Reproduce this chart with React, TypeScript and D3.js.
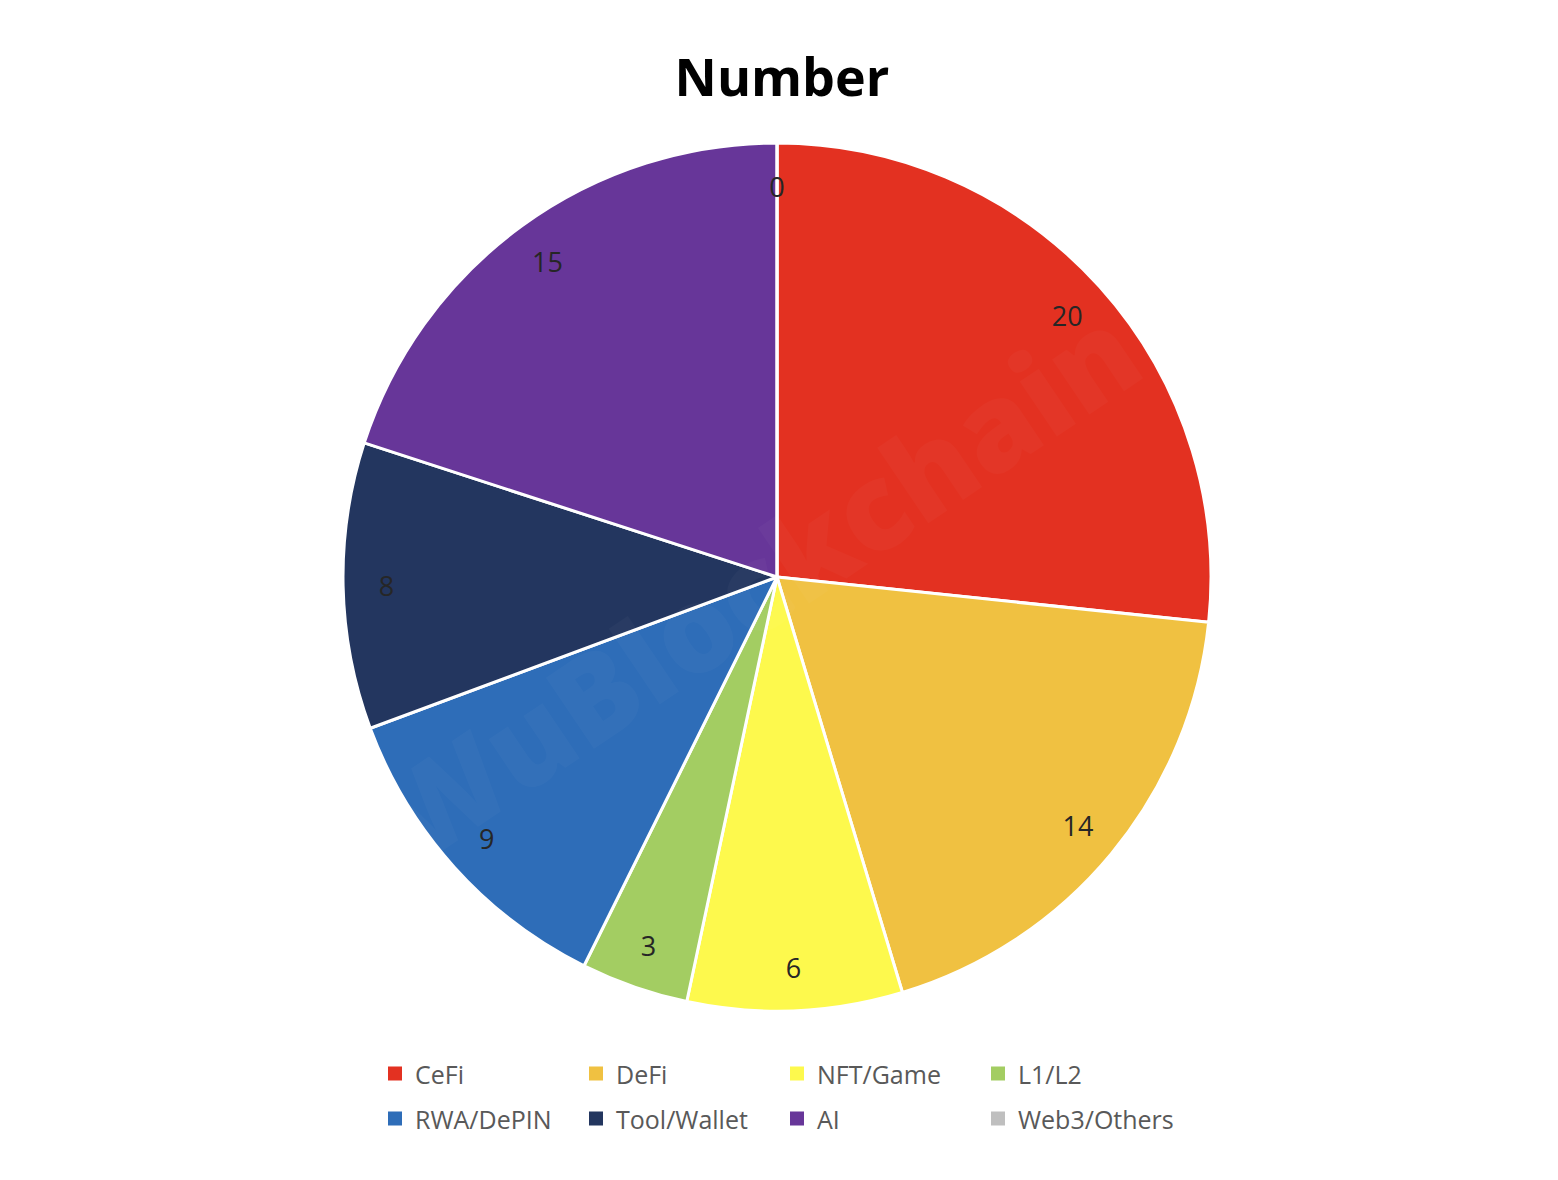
import React from "react";
import * as d3 from "d3";

const categories = ["CeFi", "DeFi", "NFT/Game", "L1/L2", "RWA/DePIN", "Tool/Wallet", "AI", "Web3/Others"];
const values = [20, 14, 6, 3, 9, 8, 15, 0];
const colors = ["#E33121", "#F0C141", "#FDF94D", "#A3CD62", "#2E6DB8", "#23365F", "#673699", "#BFBFBF"];
const title = "Number";

const W = 1558;
const H = 1180;
const cx = 777;
const cy = 577;
const R = 434;

export default function App() {
  const pie = d3.pie<number>().sort(null).value((d) => d);
  const arcs = pie(values);
  const arcGen = d3.arc<d3.PieArcDatum<number>>().innerRadius(0).outerRadius(R);
  const labelArc = d3.arc<d3.PieArcDatum<number>>().innerRadius(R * 0.9).outerRadius(R * 0.9);

  const legendX = d3.scaleBand<number>().domain([0, 1, 2, 3]).range([388, 1192]);
  const legendY = d3.scaleBand<number>().domain([0, 1]).range([1051, 1141]);

  return (
    <svg width={W} height={H} style={{ display: "block", margin: -8, background: "#fff" }}>
      <text x={782} y={96} textAnchor="middle" fontFamily="Open Sans" fontWeight={700} fontSize={52} fill="#000">
        {title}
      </text>
      <g transform={`translate(${cx},${cy})`}>
        {arcs.map((a, i) => (
          <path key={i} d={arcGen(a) || ""} fill={colors[i]} stroke="#fff" strokeWidth={3} strokeLinejoin="round" />
        ))}
        <text
          transform="rotate(-34) translate(-20,40)"
          textAnchor="middle"
          fontFamily="Open Sans"
          fontWeight={800}
          fontSize={120}
          fill="#fff"
          opacity={0.025}
        >
          WuBlockchain
        </text>
        {arcs.map((a, i) => {
          const [x, y] = labelArc.centroid(a);
          return (
            <text
              key={i}
              x={x}
              y={y}
              textAnchor="middle"
              dominantBaseline="central"
              fontFamily="Open Sans"
              fontSize={27}
              fill="#262626"
            >
              {values[i]}
            </text>
          );
        })}
      </g>
      {categories.map((c, i) => {
        const col = i % 4;
        const row = Math.floor(i / 4);
        const x = legendX(col)!;
        const y = legendY(row)! + legendY.bandwidth() / 2;
        return (
          <g key={c}>
            <rect x={x} y={y - 7} width={14} height={14} fill={colors[i]} />
            <text x={x + 27} y={y} dominantBaseline="central" fontFamily="Open Sans" fontSize={25} fill="#595959">
              {c}
            </text>
          </g>
        );
      })}
    </svg>
  );
}
